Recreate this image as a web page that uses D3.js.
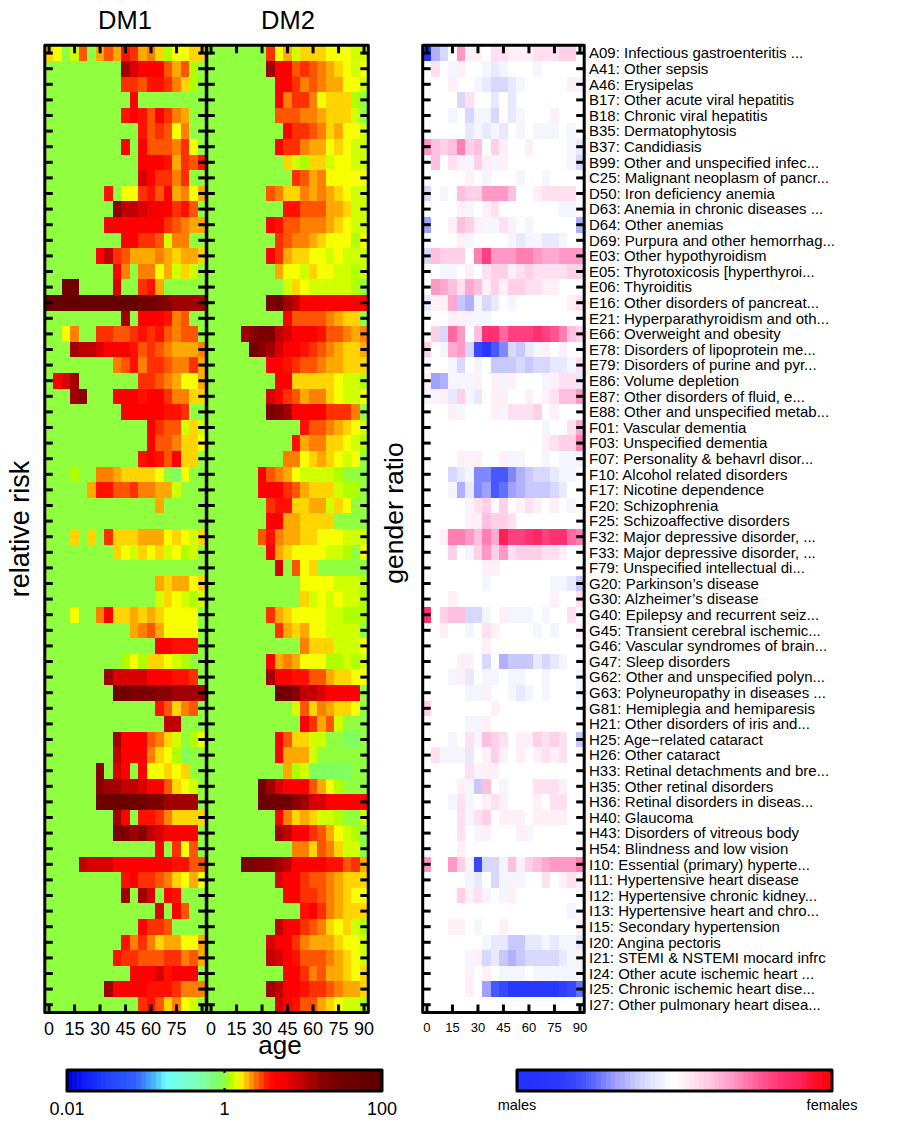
<!DOCTYPE html>
<html><head><meta charset="utf-8">
<script src="https://cdn.jsdelivr.net/npm/d3@7"></script>
<style>html,body{margin:0;padding:0;background:#fff}svg{display:block}text{font-family:"Liberation Sans",Arial,sans-serif;fill:#000}</style>
</head><body><svg id="c" width="899" height="1126"></svg>
<script>
const diagnoses = ["A09: Infectious gastroenteritis ...","A41: Other sepsis","A46: Erysipelas","B17: Other acute viral hepatitis","B18: Chronic viral hepatitis","B35: Dermatophytosis","B37: Candidiasis","B99: Other and unspecified infec...","C25: Malignant neoplasm of pancr...","D50: Iron deficiency anemia","D63: Anemia in chronic diseases ...","D64: Other anemias","D69: Purpura and other hemorrhag...","E03: Other hypothyroidism","E05: Thyrotoxicosis [hyperthyroi...","E06: Thyroiditis","E16: Other disorders of pancreat...","E21: Hyperparathyroidism and oth...","E66: Overweight and obesity","E78: Disorders of lipoprotein me...","E79: Disorders of purine and pyr...","E86: Volume depletion","E87: Other disorders of fluid, e...","E88: Other and unspecified metab...","F01: Vascular dementia","F03: Unspecified dementia","F07: Personality & behavrl disor...","F10: Alcohol related disorders","F17: Nicotine dependence","F20: Schizophrenia","F25: Schizoaffective disorders","F32: Major depressive disorder, ...","F33: Major depressive disorder, ...","F79: Unspecified intellectual di...","G20: Parkinson’s disease","G30: Alzheimer’s disease","G40: Epilepsy and recurrent seiz...","G45: Transient cerebral ischemic...","G46: Vascular syndromes of brain...","G47: Sleep disorders","G62: Other and unspecified polyn...","G63: Polyneuropathy in diseases ...","G81: Hemiplegia and hemiparesis","H21: Other disorders of iris and...","H25: Age−related cataract","H26: Other cataract","H33: Retinal detachments and bre...","H35: Other retinal disorders","H36: Retinal disorders in diseas...","H40: Glaucoma","H43: Disorders of vitreous body","H54: Blindness and low vision","I10: Essential (primary) hyperte...","I11: Hypertensive heart disease","I12: Hypertensive chronic kidney...","I13: Hypertensive heart and chro...","I15: Secondary hypertension","I20: Angina pectoris","I21: STEMI & NSTEMI mocard infrc","I24: Other acute ischemic heart ...","I25: Chronic ischemic heart dise...","I27: Other pulmonary heart disea..."];
const ageBins = [0,5,10,15,20,25,30,35,40,45,50,55,60,65,70,75,80,85,90];
const ageTicks = [0,15,30,45,60,75,90];
// relative risk, in sixteenths of a decade (16 = RR 10, 0 = RR 1)
const dm1Risk = [
[4,3,0,2,7,0,5,7,5,9,8,5,6,4,1,3,3,4,4],
[0,0,0,0,0,0,0,0,0,18,14,10,10,10,7,5,7,1,0],
[0,0,0,0,0,0,0,0,0,8,8,7,9,9,8,6,4,1,0],
[0,0,0,0,0,0,0,0,0,0,10,0,0,0,0,0,0,0,0],
[0,0,0,0,0,0,0,0,0,9,10,9,7,10,8,6,5,0,0],
[0,0,0,0,0,0,0,0,0,0,0,9,7,8,7,3,6,0,0],
[0,0,0,0,0,0,0,0,0,10,0,10,7,7,7,6,8,3,0],
[0,0,0,0,0,0,0,0,0,0,0,10,10,10,9,5,8,7,9],
[0,0,0,0,0,0,0,0,0,0,0,14,10,8,8,6,8,0,0],
[0,0,0,0,0,0,0,9,0,3,3,8,9,7,10,5,6,3,5],
[0,0,0,0,0,0,0,0,20,16,16,14,12,12,10,8,9,7,0],
[0,0,0,0,0,0,0,10,10,10,10,10,10,10,8,7,6,5,5],
[0,0,0,0,0,0,0,0,0,10,10,8,8,7,2,6,6,0,0],
[0,0,0,0,0,0,10,16,8,7,5,5,5,6,5,4,5,5,4],
[0,0,0,0,0,0,0,0,10,6,0,6,6,3,5,2,4,2,0],
[0,0,24,24,0,0,0,0,14,0,0,8,9,5,0,0,0,0,0],
[28,28,28,28,28,28,28,28,28,28,28,24,24,22,20,18,18,18,18],
[0,0,0,0,0,0,0,0,0,18,0,10,10,10,9,6,7,0,0],
[0,0,3,6,0,0,8,8,7,7,8,9,8,9,7,6,7,7,0],
[0,0,0,18,16,16,14,10,10,10,9,7,8,7,6,5,5,5,6],
[0,0,0,0,0,0,0,0,6,7,9,6,8,8,7,6,6,8,5],
[0,10,14,18,0,0,0,0,0,0,0,8,8,7,6,5,3,3,5],
[0,0,0,18,20,0,0,0,10,10,10,9,10,10,8,6,6,4,4],
[0,0,0,0,0,0,0,0,0,10,10,10,10,10,9,9,8,0,0],
[0,0,0,0,0,0,0,0,0,0,0,0,10,8,7,7,2,4,2],
[0,0,0,0,0,0,0,0,0,0,0,0,10,7,7,6,4,4,3],
[0,0,0,0,0,0,0,0,0,0,0,9,10,9,7,10,4,4,0],
[0,0,0,1,0,0,6,6,5,4,4,4,4,3,0,-1,3,0,0],
[0,0,0,0,0,5,9,9,7,7,8,6,6,5,5,2,0,0,0],
[0,0,0,0,0,0,0,0,0,0,0,0,0,5,0,0,0,0,0],
[0,0,0,0,0,0,0,0,0,0,0,0,0,0,0,0,0,0,0],
[0,0,0,4,0,4,0,8,4,4,4,5,5,5,3,4,3,2,4],
[0,0,0,0,0,0,0,0,4,3,2,4,3,4,2,3,1,2,0],
[0,0,0,0,0,0,0,0,0,0,0,0,0,0,0,0,0,0,0],
[0,0,0,0,0,0,0,0,0,0,0,0,0,5,4,5,5,3,4],
[0,0,0,0,0,0,0,0,0,0,0,0,0,2,4,3,2,1,2],
[0,0,0,3,0,0,6,10,4,4,5,4,5,4,3,3,3,3,0],
[0,0,0,0,0,0,0,0,0,0,5,6,7,5,3,3,3,3,0],
[0,0,0,0,0,0,0,0,0,0,0,0,0,10,10,9,9,9,0],
[0,0,0,0,0,0,0,0,0,1,3,1,4,4,3,2,1,0,0],
[0,0,0,0,0,0,0,18,14,14,14,14,10,10,10,9,9,8,0],
[0,0,0,0,0,0,0,0,24,24,22,22,22,20,20,18,18,18,18],
[0,0,0,0,0,0,0,0,0,0,0,0,0,9,7,4,6,7,0],
[0,0,0,0,0,0,0,0,0,0,0,0,0,0,16,16,0,0,0],
[0,0,0,0,0,0,0,0,18,10,10,10,7,6,4,2,0,1,3],
[0,0,0,0,0,0,0,0,16,10,10,10,6,4,3,1,-1,0,0],
[0,0,0,0,0,0,20,0,14,10,0,10,3,3,4,3,4,0,0],
[0,0,0,0,0,0,20,18,18,16,16,14,10,10,7,4,3,2,0],
[0,0,0,0,0,0,24,26,26,26,24,24,22,22,18,18,18,18,0],
[0,0,0,0,0,0,0,0,18,10,0,9,9,8,6,4,4,4,4],
[0,0,0,0,0,0,0,0,22,22,18,20,16,14,10,10,10,10,0],
[0,0,0,0,0,0,0,0,0,0,0,0,0,10,0,8,3,7,0],
[0,0,0,0,16,14,14,14,10,10,10,10,10,10,10,9,9,7,7],
[0,0,0,0,0,0,0,0,0,9,10,8,8,7,6,4,3,5,3],
[0,0,0,0,0,0,0,0,0,18,0,18,14,0,10,9,0,0,0],
[0,0,0,0,0,0,0,0,0,0,0,0,0,14,0,10,7,0,0],
[0,0,0,0,0,0,0,0,0,0,0,10,8,8,7,0,0,0,0],
[0,0,0,0,0,0,0,0,0,9,6,8,6,4,5,5,3,3,5],
[0,0,0,0,0,0,0,0,9,8,8,7,7,7,8,8,6,7,5],
[0,0,0,0,0,0,0,0,0,0,10,10,10,14,9,10,10,10,0],
[0,0,0,0,0,0,0,18,10,10,10,10,9,9,9,8,6,6,6],
[0,0,0,0,0,0,0,0,0,0,0,8,9,7,4,6,3,2,0]];
const dm2Risk = [
[0,0,0,0,0,0,0,8,3,5,2,4,4,4,3,3,3,2,2],
[0,0,0,0,0,0,0,18,10,10,7,8,7,6,5,4,3,2,3],
[0,0,0,0,0,0,0,0,10,10,8,6,7,6,5,5,3,3,2],
[0,0,0,0,0,0,0,0,10,6,8,8,6,3,4,4,4,1,0],
[0,0,0,0,0,0,0,0,7,7,7,6,6,5,4,4,4,2,0],
[0,0,0,0,0,0,0,0,0,10,8,8,7,6,4,5,3,3,2],
[0,0,0,0,0,0,0,0,10,8,8,6,5,5,3,4,3,2,2],
[0,0,0,0,0,0,0,0,0,4,2,1,4,4,2,3,3,2,2],
[0,0,0,0,0,0,0,0,0,0,8,7,5,6,3,3,3,3,3],
[0,0,0,0,0,0,0,7,6,4,4,6,5,6,5,4,3,2,2],
[0,0,0,0,0,0,0,0,0,9,9,7,7,7,5,5,4,2,2],
[0,0,0,0,0,0,0,10,9,7,7,6,6,6,5,4,3,2,2],
[0,0,0,0,0,0,0,0,8,7,6,6,5,4,3,3,3,1,3],
[0,0,0,0,0,0,0,10,8,5,4,4,3,3,2,3,2,2,2],
[0,0,0,0,0,0,0,0,5,3,3,2,4,3,3,2,2,1,2],
[0,0,0,0,0,0,0,0,0,2,4,3,2,2,2,2,2,1,0],
[0,0,0,0,0,0,0,22,24,18,16,10,10,10,10,10,10,10,10],
[0,0,0,0,0,0,0,0,0,10,7,7,7,7,6,5,4,4,0],
[0,0,0,0,18,20,22,22,16,14,10,10,10,9,7,7,6,5,6],
[0,0,0,0,0,24,20,18,14,10,10,9,8,7,6,5,4,4,5],
[0,0,0,0,0,0,0,10,10,9,8,7,7,6,5,5,4,4,4],
[0,0,0,0,0,0,0,0,10,10,4,4,4,4,4,3,2,2,1],
[0,0,0,0,0,0,0,14,10,8,7,5,6,6,4,3,2,2,3],
[0,0,0,0,0,0,0,22,20,18,10,10,10,10,8,8,8,6,0],
[0,0,0,0,0,0,0,0,0,0,0,9,7,7,6,5,4,3,2],
[0,0,0,0,0,0,0,0,0,0,9,5,6,6,4,4,3,2,1],
[0,0,0,0,0,0,0,0,0,6,6,3,4,5,4,3,2,3,0],
[0,0,0,0,0,0,10,7,6,5,3,2,2,2,2,1,0,0,0],
[0,0,0,0,0,0,10,10,10,8,7,5,4,4,4,2,1,1,0],
[0,0,0,0,0,0,0,8,9,9,4,4,5,5,2,4,3,0,0],
[0,0,0,0,0,0,0,10,10,5,5,4,4,4,4,0,0,0,0],
[0,0,0,0,0,0,7,9,6,5,5,4,4,3,3,3,2,2,2],
[0,0,0,0,0,0,0,10,5,4,3,3,3,3,2,2,1,0,3],
[0,0,0,0,0,0,0,0,14,0,7,3,4,0,0,0,0,0,0],
[0,0,0,0,0,0,0,0,0,0,0,3,3,3,3,2,2,2,1],
[0,0,0,0,0,0,0,0,0,0,0,4,2,3,2,3,2,2,1],
[0,0,0,0,0,0,0,8,5,4,3,3,3,3,2,2,1,1,1],
[0,0,0,0,0,0,0,0,8,5,4,5,3,3,2,2,2,2,0],
[0,0,0,0,0,0,0,0,0,0,0,6,4,4,4,2,2,2,3],
[0,0,0,0,0,0,0,10,5,6,5,3,3,3,1,1,2,1,2],
[0,0,0,0,0,0,0,18,10,10,9,9,7,7,5,4,4,3,3],
[0,0,0,0,0,0,0,0,24,24,20,16,16,14,10,10,10,10,0],
[0,0,0,0,0,0,0,0,0,0,2,7,4,6,5,4,4,3,0],
[0,0,0,0,0,0,0,0,0,0,0,10,8,5,7,2,0,0,0],
[0,0,0,0,0,0,0,0,10,7,4,4,2,2,0,0,-1,-1,0],
[0,0,0,0,0,0,0,0,10,5,5,5,2,0,0,0,0,0,0],
[0,0,0,0,0,0,0,0,0,5,1,2,-1,-1,-1,-1,-1,0,0],
[0,0,0,0,0,0,24,18,14,10,10,10,7,5,3,1,0,0,0],
[0,0,0,0,0,0,24,24,24,24,20,18,14,14,10,10,10,10,10],
[0,0,0,0,0,0,0,0,10,6,4,5,4,2,2,1,0,0,2],
[0,0,0,0,0,0,0,0,18,16,10,10,8,7,5,3,2,1,0],
[0,0,0,0,0,0,0,0,0,0,6,6,4,7,6,4,2,2,0],
[0,0,0,0,22,22,20,20,18,16,10,10,10,10,9,9,7,8,5],
[0,0,0,0,0,0,0,0,14,10,10,8,7,7,6,5,4,4,4],
[0,0,0,0,0,0,0,0,0,10,10,8,8,7,6,5,4,3,3],
[0,0,0,0,0,0,0,0,0,0,0,9,10,8,6,5,4,4,4],
[0,0,0,0,0,0,0,0,16,10,10,8,7,6,4,3,4,2,1],
[0,0,0,0,0,0,0,14,10,10,8,6,5,5,5,4,3,3,2],
[0,0,0,0,0,0,0,16,14,10,9,7,7,7,6,5,4,3,2],
[0,0,0,0,0,0,0,0,0,10,10,8,6,7,5,5,4,3,4],
[0,0,0,0,0,0,0,18,16,10,10,9,8,8,7,6,5,5,4],
[0,0,0,0,0,0,0,0,14,10,9,7,7,5,4,3,2,2,1]];
// gender ratio, -16 = males only ... +16 = females only
const genderRatio = [
[-14,-5,-3,0,6,1,1,0,2,2,1,1,1,2,2,2,3,3,0],
[0,2,0,-1,1,0,0,-1,-2,-1,0,0,0,-1,0,0,0,0,0],
[0,0,0,1,0,0,-1,-2,-3,-3,-2,-1,0,0,0,0,0,1,-1],
[0,0,0,0,-3,2,0,0,-2,0,-2,0,0,0,0,0,0,0,0],
[0,0,0,-1,0,-3,-1,-1,-3,0,-2,-1,0,0,0,1,0,0,0],
[0,0,0,0,0,-2,-1,-2,-1,-2,0,-1,0,-1,-1,-1,0,-1,0],
[6,4,3,4,7,3,4,0,3,1,0,0,1,0,0,0,0,-1,-2],
[0,4,0,2,1,-1,3,1,-1,1,0,0,0,0,0,0,0,-1,-3],
[0,0,0,0,0,1,0,-1,0,0,0,-1,0,0,-1,0,0,0,0],
[-3,0,-1,0,4,3,3,6,6,6,4,0,0,1,2,2,2,2,0],
[0,0,0,0,1,-1,0,1,2,0,0,0,0,0,0,0,-1,-1,0],
[-6,0,0,1,4,3,1,-1,-1,2,1,0,-1,0,0,0,0,0,-5],
[0,0,0,0,1,-1,0,0,0,0,-1,-2,-1,-1,-2,-2,-1,0,0],
[-3,4,3,3,3,0,7,10,6,6,6,7,7,6,5,5,6,6,6],
[0,0,-1,-1,0,1,0,2,3,3,1,2,3,2,2,2,2,3,3],
[0,6,5,4,2,5,4,1,3,1,3,3,2,2,1,1,0,0,0],
[-2,1,1,5,-4,-5,-1,-3,-2,0,-1,0,0,0,0,0,0,1,2],
[0,0,0,1,1,-1,-1,-1,0,0,0,0,0,0,0,0,0,0,0],
[0,3,-3,8,6,0,4,11,11,8,10,10,10,11,10,9,7,4,3],
[3,0,-1,5,6,-3,-10,-12,-9,-7,-3,-4,-2,-1,1,0,1,0,0],
[0,0,0,-1,-3,0,-1,0,-4,-4,-4,-3,-4,-3,-3,-2,-2,-1,2],
[1,-6,-5,-1,-1,-1,1,0,1,-1,1,0,0,0,-1,1,2,2,-2],
[-1,-1,1,-2,3,-1,-2,0,1,1,0,0,1,0,1,2,4,4,6],
[0,0,0,1,-1,0,0,0,1,-1,2,2,2,3,0,1,0,0,0],
[0,0,0,0,0,0,0,0,0,0,0,0,0,0,-1,0,0,2,5],
[0,0,0,0,0,0,0,0,0,0,0,0,0,0,1,2,3,3,7],
[0,0,0,0,1,-1,1,0,0,1,-1,-1,0,0,-1,0,-1,-1,-1],
[0,0,0,-3,-2,-1,-7,-7,-9,-9,-7,-5,-4,-3,-3,-2,-1,-1,0],
[0,0,0,-1,-5,-2,-7,-6,-9,-8,-6,-5,-4,-4,-4,-3,-2,0,0],
[0,0,0,0,0,-1,2,3,0,3,0,1,2,1,0,1,0,-1,0],
[0,0,0,0,0,1,1,4,3,3,2,0,0,0,0,0,0,0,0],
[0,0,1,7,7,6,4,7,5,13,10,10,11,12,10,11,11,8,7],
[0,0,0,3,0,-1,3,6,3,6,2,3,3,3,2,2,1,0,0],
[0,0,0,0,0,0,0,1,1,0,0,0,0,0,0,0,0,0,0],
[0,0,0,0,0,0,0,-1,0,0,0,0,0,0,0,-1,-1,-2,-4],
[0,0,0,1,0,0,0,0,0,0,0,0,0,0,0,1,0,0,2],
[11,0,3,4,4,-3,-3,-1,0,1,-1,-1,-1,0,-1,0,0,2,0],
[0,0,1,0,0,-1,0,2,1,0,0,0,0,-1,0,-1,0,0,1],
[0,0,0,0,0,0,0,1,0,0,0,0,0,0,0,0,0,0,0],
[0,0,0,0,1,1,0,-3,0,-5,-4,-4,-4,-2,-3,-2,-1,0,0],
[0,0,0,-1,1,-2,0,-1,-1,0,-1,-1,0,0,-1,0,0,0,-1],
[0,0,0,0,0,-1,-1,1,0,0,-1,-2,-1,0,-1,0,0,0,-1],
[3,0,0,0,0,0,0,0,1,0,0,0,0,0,0,0,0,0,0],
[0,0,0,0,0,-1,-1,1,0,0,0,0,0,0,0,0,0,0,0],
[0,0,0,-1,0,2,-1,4,3,2,0,1,1,3,2,3,2,0,-4],
[0,2,-1,-1,-1,-2,0,1,3,1,0,1,0,1,2,1,2,0,0],
[0,0,0,0,0,2,-1,1,1,0,0,0,0,0,0,0,0,0,0],
[0,0,0,0,1,-1,-4,4,0,-1,0,0,0,2,2,2,1,0,0],
[0,0,0,-1,2,-1,0,1,2,1,0,0,0,1,0,2,2,0,0],
[0,0,0,0,2,-1,2,3,0,1,1,1,0,1,1,1,1,0,0],
[0,0,0,0,2,0,-1,1,0,0,0,1,-1,0,0,0,0,0,0],
[0,0,0,0,1,0,0,0,0,0,0,0,0,0,0,0,0,0,0],
[6,0,0,6,3,-1,-10,-3,-3,-1,4,1,3,4,5,6,6,6,7],
[0,0,0,0,0,-1,-2,0,-3,-1,-1,-1,0,0,2,0,1,2,1],
[0,0,0,0,3,1,2,-1,0,-1,1,0,0,0,0,0,0,0,0],
[0,0,0,0,0,0,0,0,0,0,0,0,0,0,0,0,0,-1,0],
[0,0,0,1,1,0,-1,0,0,1,0,0,0,0,0,0,0,0,1],
[0,0,0,0,0,0,0,-1,-2,-2,-4,-4,-2,-2,-1,-2,-1,-1,-2],
[0,0,0,0,0,-1,1,-3,-2,-4,-5,-4,-3,-3,-3,-3,-2,-1,1],
[0,0,0,0,0,1,0,1,0,-1,-1,-1,0,-1,-1,-1,-1,-1,-1],
[0,0,0,0,0,1,0,-6,-9,-10,-12,-12,-12,-12,-12,-12,-11,-10,-8],
[0,0,0,0,0,0,0,0,0,0,0,0,0,0,0,0,0,0,0]];

const riskColor = d3.scaleLinear()
  .domain([-32,-28,-24,-18,-16,-14,-12,-5,-1,0,1,2,3,4,5,6,7,8,9,10,13,14,16,18,20,24,32])
  .range(["#0000d0","#1020ff","#2040ff","#3060ff","#4090ff","#50c0ff","#70ffff","#80ffb0","#80ff60","#8fff3f","#b0ff00","#d0ff00","#f8ff00","#ffd400","#ffa800","#ff7f00","#ff5500","#ff3000","#ff1000","#ff0000","#f00000","#d80000","#c00000","#a00000","#880000","#700000","#5c0000"])
  .clamp(true);
const genderColor = d3.scaleLinear()
  .domain([-16,-12,-10,-9,-8,-7,-6,-5,-4,-3,-2,-1,0,1,2,3,4,5,6,7,8,10,11,13,14,16])
  .range(["#2030ff","#2838ff","#3848ff","#4858ff","#6070ff","#8088ff","#a0a0ff","#b0b0ff","#c8c8ff","#d8d8ff","#e8e8ff","#f5f5ff","#ffffff","#fff0f8","#ffe0f0","#ffd0e8","#ffc0e0","#ffa8d0","#ff98c4","#ff80b0","#ff68a0","#ff4080","#ff3070","#ff2058","#ff1030","#ff0000"])
  .clamp(true);

const svg = d3.select("#c");
const yTop = 45.3, yBottom = 1012.5;
const y = d3.scaleBand().domain(diagnoses).range([yTop, yBottom]);

function panel(data, color, x0, x1, o) {
  const x = d3.scaleBand().domain(ageBins).range([x0, x1]);
  const g = svg.append("g");
  g.selectAll("g").data(data).join("g").each(function (row, i) {
    d3.select(this).selectAll("rect").data(row).join("rect")
      .attr("x", (d, j) => x(ageBins[j])).attr("y", y(diagnoses[i]))
      .attr("width", x.bandwidth()).attr("height", y.bandwidth())
      .attr("fill", d => color(d)).attr("shape-rendering", "crispEdges");
  });
  const tl = 8, sw = 3;
  const styl = s => { s.select(".domain").remove(); s.selectAll("line").attr("stroke", "#000").attr("stroke-width", sw); };
  g.append("g").attr("transform", `translate(0,${yTop})`).call(d3.axisBottom(x).tickValues(ageTicks).tickSize(tl).tickFormat("")).call(styl);
  g.append("g").attr("transform", `translate(0,${yBottom})`).call(d3.axisTop(x).tickValues(ageTicks).tickSize(tl).tickFormat("")).call(styl);
  g.append("g").attr("transform", `translate(${x0},0)`).call(d3.axisRight(y).tickSize(tl).tickFormat("")).call(styl);
  g.append("g").attr("transform", `translate(${x1},0)`).call(d3.axisLeft(y).tickSize(tl).tickFormat("")).call(styl);
  g.append("rect").attr("x", x0).attr("y", yTop).attr("width", x1 - x0).attr("height", yBottom - yTop)
    .attr("fill", "none").attr("stroke", "#000").attr("stroke-width", 3).attr("stroke-linejoin", "round");
  const lab = g.append("g").attr("transform", `translate(0,${yBottom})`)
    .call(d3.axisBottom(x).tickValues(o.labels).tickSize(0).tickPadding(o.pad));
  lab.select(".domain").remove();
  lab.selectAll("text").attr("font-size", o.size).attr("font-family", '"Liberation Sans",Arial,sans-serif');
  return x;
}
panel(dm1Risk, riskColor, 44.8, 206.3, {labels:[0,15,30,45,60,75], size:18, pad:9.5});
panel(dm2Risk, riskColor, 206.8, 368.3, {labels:ageTicks, size:18, pad:9.5});
panel(genderRatio, genderColor, 422.7, 584.2, {labels:ageTicks, size:13, pad:10});

// row labels
svg.append("g").selectAll("text").data(diagnoses).join("text")
  .attr("x", 589).attr("y", d => y(d) + y.bandwidth() / 2).attr("dy", "0.35em")
  .attr("font-size", 15).text(d => d);

function title(t, x, yy, size, rot) {
  const s = svg.append("text").attr("text-anchor", "middle").attr("font-size", size).text(t);
  if (rot) s.attr("transform", `translate(${x},${yy}) rotate(-90)`); else s.attr("x", x).attr("y", yy);
}
title("DM1", 125, 29, 25.5);
title("DM2", 288, 29, 25.5);
title("age", 280, 1054, 26);
title("relative risk", 29, 529, 27, true);
title("gender ratio", 403, 513, 26.5, true);

// colour bars
function colorbar(x0, x1, y0, y1, color, lo, hi) {
  const n = 64, levels = d3.range(n).map(i => lo + (i + 0.5) * (hi - lo) / n);
  const x = d3.scaleLinear().domain([lo, hi]).range([x0, x1]);
  const g = svg.append("g");
  g.selectAll("rect").data(levels).join("rect")
    .attr("x", d => x(d - (hi - lo) / n / 2)).attr("y", y0)
    .attr("width", (x1 - x0) / n + 0.5).attr("height", y1 - y0)
    .attr("fill", d => color(d)).attr("shape-rendering", "crispEdges");
  g.append("rect").attr("x", x0).attr("y", y0).attr("width", x1 - x0).attr("height", y1 - y0)
    .attr("fill", "none").attr("stroke", "#000").attr("stroke-width", 3).attr("stroke-linejoin", "round");
  return x;
}
const cbL = colorbar(67, 382, 1070, 1091, riskColor, -32, 32);
[1070, 1091].forEach((yy, i) => svg.append("line").attr("x1", cbL(0)).attr("x2", cbL(0))
  .attr("y1", yy).attr("y2", yy + (i ? -3 : 3)).attr("stroke", "#000").attr("stroke-width", 2));
[["0.01", -32], ["1", 0], ["100", 32]].forEach(([t, v]) =>
  svg.append("text").attr("x", cbL(v)).attr("y", 1115).attr("text-anchor", "middle").attr("font-size", 18).text(t));
const cbR = colorbar(517, 832, 1070, 1091, genderColor, -16, 16);
[["males", -16], ["females", 16]].forEach(([t, v]) =>
  svg.append("text").attr("x", cbR(v)).attr("y", 1110).attr("text-anchor", "middle").attr("font-size", 14.5).text(t));
</script></body></html>
